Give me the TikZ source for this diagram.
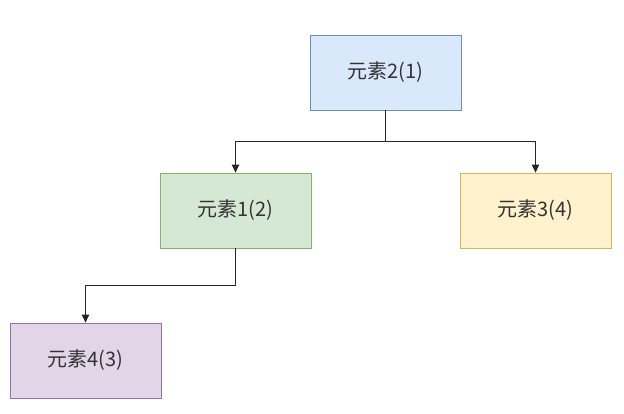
\documentclass[tikz,border=0pt]{standalone}
\usepackage{fontspec}
\setmainfont{Noto Sans CJK SC}
\usetikzlibrary{arrows.meta}
\definecolor{bluefill}{HTML}{DAE8FC}\definecolor{bluedraw}{HTML}{6C8EBF}
\definecolor{greenfill}{HTML}{D5E8D4}\definecolor{greendraw}{HTML}{82B366}
\definecolor{yellowfill}{HTML}{FFF2CC}\definecolor{yellowdraw}{HTML}{D6B656}
\definecolor{purplefill}{HTML}{E1D5E7}\definecolor{purpledraw}{HTML}{9673A6}
\definecolor{textcol}{HTML}{333333}
\begin{document}
\begin{tikzpicture}[x=1pt,y=-1pt,
  box/.style={minimum width=151pt,minimum height=75pt,inner sep=0pt,line width=0.8pt,text=textcol,font=\fontsize{20}{22}\selectfont},
  conn/.style={line width=0.9pt,draw=black!85,-{Triangle[length=8pt,width=7.5pt]}}]
\useasboundingbox (0,0) rectangle (624,414);
\node[box,fill=bluefill,draw=bluedraw] (e2) at (385.5,72.5) {元素2(1)};
\node[box,fill=greenfill,draw=greendraw] (e1) at (235.5,210.5) {元素1(2)};
\node[box,fill=yellowfill,draw=yellowdraw] (e3) at (535.5,210.5) {元素3(4)};
\node[box,fill=purplefill,draw=purpledraw] (e4) at (85.5,360.5) {元素4(3)};
\draw[conn] (e2.south) -- ++(0,31) -| (e1.north);
\draw[conn] (e2.south) -- ++(0,31) -| (e3.north);
\draw[conn] (e1.south) -- ++(0,37) -| (e4.north);
\end{tikzpicture}
\end{document}
